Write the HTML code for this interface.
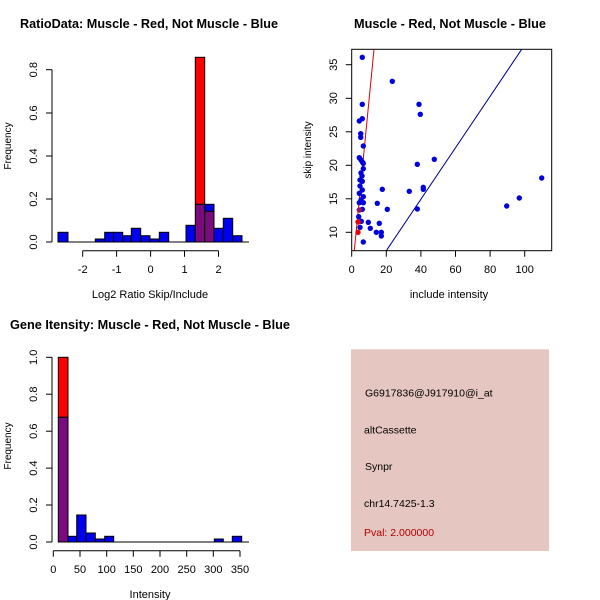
<!DOCTYPE html>
<html><head><meta charset="utf-8"><style>
html,body{margin:0;padding:0;background:#fff;}
svg{display:block;font-family:"Liberation Sans",sans-serif;}
</style></head><body>
<svg width="600" height="600" viewBox="0 0 600 600" xmlns="http://www.w3.org/2000/svg">
<rect width="600" height="600" fill="#fff"/>
<g font-weight="bold" font-size="13" fill="#000">
<text x="20" y="28" textLength="258" lengthAdjust="spacingAndGlyphs">RatioData: Muscle - Red, Not Muscle - Blue</text>
<text x="354" y="28" textLength="192" lengthAdjust="spacingAndGlyphs">Muscle - Red, Not Muscle - Blue</text>
<text x="10" y="329" textLength="280" lengthAdjust="spacingAndGlyphs">Gene Itensity: Muscle - Red, Not Muscle - Blue</text>
</g>

<g stroke="#000" stroke-width="1">
<line x1="58" y1="242" x2="249" y2="242"/>
<rect x="58" y="232.3" width="10" height="9.7" fill="#0000ee"/>
<rect x="95.3" y="239" width="9.4" height="3" fill="#0000ee"/>
<rect x="104.7" y="232.3" width="9" height="9.7" fill="#0000ee"/>
<rect x="113.7" y="232.3" width="9" height="9.7" fill="#0000ee"/>
<rect x="122.7" y="235.7" width="8.6" height="6.3" fill="#0000ee"/>
<rect x="131.3" y="228.3" width="9.4" height="13.7" fill="#0000ee"/>
<rect x="140.7" y="235.7" width="9.3" height="6.3" fill="#0000ee"/>
<rect x="150" y="239" width="9.3" height="3" fill="#0000ee"/>
<rect x="159.3" y="232.3" width="9.4" height="9.7" fill="#0000ee"/>
<rect x="186" y="225.3" width="9.3" height="16.7" fill="#0000ee"/>
<rect x="195.3" y="57.3" width="9.4" height="147" fill="#ff0000"/>
<rect x="195.3" y="204.3" width="9.4" height="37.7" fill="#7a0a7e"/>
<rect x="204.7" y="204.3" width="9.3" height="37.7" fill="#0000ee"/>
<rect x="204.7" y="211.3" width="9.3" height="30.7" fill="#7a0a7e"/>
<rect x="214" y="228.3" width="9.3" height="13.7" fill="#0000ee"/>
<rect x="223.3" y="218.3" width="9.4" height="23.7" fill="#0000ee"/>
<rect x="232.7" y="235.7" width="9.3" height="6.3" fill="#0000ee"/>
<line x1="52" y1="242" x2="52" y2="69.7"/>
<line x1="46" y1="242" x2="52" y2="242"/><line x1="46" y1="199" x2="52" y2="199"/><line x1="46" y1="156" x2="52" y2="156"/><line x1="46" y1="113" x2="52" y2="113"/><line x1="46" y1="69.7" x2="52" y2="69.7"/>
<line x1="82.7" y1="250.7" x2="218.5" y2="250.7"/>
<line x1="82.7" y1="250.7" x2="82.7" y2="256.7"/><line x1="116.6" y1="250.7" x2="116.6" y2="256.7"/><line x1="150.6" y1="250.7" x2="150.6" y2="256.7"/><line x1="184.5" y1="250.7" x2="184.5" y2="256.7"/><line x1="218.5" y1="250.7" x2="218.5" y2="256.7"/>
</g>
<g font-size="11" fill="#000" text-anchor="middle">
<text x="82.7" y="273">-2</text><text x="116.6" y="273">-1</text><text x="150.6" y="273">0</text><text x="184.5" y="273">1</text><text x="218.5" y="273">2</text>
<text x="150" y="298">Log2 Ratio Skip/Include</text>
<text transform="translate(37,242) rotate(-90)">0.0</text>
<text transform="translate(37,199) rotate(-90)">0.2</text>
<text transform="translate(37,156) rotate(-90)">0.4</text>
<text transform="translate(37,113) rotate(-90)">0.6</text>
<text transform="translate(37,69.7) rotate(-90)">0.8</text>
<text transform="translate(11,146) rotate(-90)" font-size="10">Frequency</text>
</g>

<g stroke="#000" stroke-width="1" fill="none">
<rect x="351.7" y="49.3" width="200" height="201.4"/>
<line x1="351.7" y1="250.7" x2="351.7" y2="256.7"/><line x1="386.3" y1="250.7" x2="386.3" y2="256.7"/><line x1="420.9" y1="250.7" x2="420.9" y2="256.7"/><line x1="455.5" y1="250.7" x2="455.5" y2="256.7"/><line x1="490.1" y1="250.7" x2="490.1" y2="256.7"/><line x1="524.7" y1="250.7" x2="524.7" y2="256.7"/>
<line x1="345.7" y1="232.3" x2="351.7" y2="232.3"/><line x1="345.7" y1="198.8" x2="351.7" y2="198.8"/><line x1="345.7" y1="165.3" x2="351.7" y2="165.3"/><line x1="345.7" y1="131.8" x2="351.7" y2="131.8"/><line x1="345.7" y1="98.3" x2="351.7" y2="98.3"/><line x1="345.7" y1="64.7" x2="351.7" y2="64.7"/>
</g>
<line x1="354.3" y1="250.7" x2="374" y2="49.3" stroke="#dd0000" stroke-width="1"/>
<line x1="386.3" y1="250.7" x2="521.7" y2="49.3" stroke="#00008b" stroke-width="1"/>
<g fill="#0000dd">
<circle cx="362.3" cy="57.3" r="2.7"/><circle cx="392.3" cy="81.3" r="2.7"/><circle cx="362.3" cy="104.3" r="2.7"/><circle cx="419" cy="104.3" r="2.7"/><circle cx="420.3" cy="114.3" r="2.7"/><circle cx="359.3" cy="121" r="2.7"/><circle cx="362.3" cy="118.7" r="2.7"/><circle cx="360.7" cy="133.7" r="2.7"/><circle cx="360.7" cy="137.3" r="2.7"/><circle cx="363.3" cy="146" r="2.7"/><circle cx="359.3" cy="157.7" r="2.7"/><circle cx="361" cy="160" r="2.7"/><circle cx="362.3" cy="162" r="2.7"/><circle cx="363.3" cy="163.3" r="2.7"/><circle cx="417.3" cy="164.3" r="2.7"/><circle cx="434.3" cy="159.3" r="2.7"/><circle cx="363.3" cy="168.7" r="2.7"/><circle cx="362.3" cy="181.3" r="2.7"/><circle cx="382.3" cy="189.3" r="2.7"/><circle cx="409.3" cy="191.3" r="2.7"/><circle cx="423.3" cy="187.3" r="2.7"/><circle cx="423.3" cy="189.3" r="2.7"/><circle cx="362.3" cy="190" r="2.7"/><circle cx="359.3" cy="193.3" r="2.7"/><circle cx="363.3" cy="196.7" r="2.7"/><circle cx="361" cy="200" r="2.7"/><circle cx="359.3" cy="202.7" r="2.7"/><circle cx="363.3" cy="202.7" r="2.7"/><circle cx="377.3" cy="203.3" r="2.7"/><circle cx="417.3" cy="209" r="2.7"/><circle cx="387.3" cy="209.3" r="2.7"/><circle cx="362.3" cy="209.3" r="2.7"/><circle cx="358.7" cy="216.7" r="2.7"/><circle cx="361.3" cy="221.3" r="2.7"/><circle cx="368.3" cy="222.3" r="2.7"/><circle cx="379.3" cy="223.3" r="2.7"/><circle cx="360" cy="227.3" r="2.7"/><circle cx="370.3" cy="228.3" r="2.7"/><circle cx="376.3" cy="232.3" r="2.7"/><circle cx="381.3" cy="232.3" r="2.7"/><circle cx="381.3" cy="236" r="2.7"/><circle cx="363.3" cy="242" r="2.7"/><circle cx="506.7" cy="206" r="2.7"/><circle cx="519.3" cy="198" r="2.7"/><circle cx="541.7" cy="178" r="2.7"/><circle cx="360" cy="180" r="2.7"/><circle cx="361" cy="173" r="2.7"/><circle cx="360" cy="186" r="2.7"/><circle cx="362" cy="176" r="2.7"/>
</g>
<g fill="#ee0000">
<circle cx="358" cy="232.3" r="2.7"/><circle cx="358" cy="222" r="2.7"/><circle cx="359.3" cy="210" r="2.7" fill="#a01060"/>
</g>
<g font-size="11" fill="#000" text-anchor="middle">
<text x="351.7" y="273">0</text><text x="386.3" y="273">20</text><text x="420.9" y="273">40</text><text x="455.5" y="273">60</text><text x="490.1" y="273">80</text><text x="524.7" y="273">100</text>
<text x="449" y="298">include intensity</text>
<text transform="translate(337,232.3) rotate(-90)">10</text>
<text transform="translate(337,198.8) rotate(-90)">15</text>
<text transform="translate(337,165.3) rotate(-90)">20</text>
<text transform="translate(337,131.8) rotate(-90)">25</text>
<text transform="translate(337,98.3) rotate(-90)">30</text>
<text transform="translate(337,64.7) rotate(-90)">35</text>
<text transform="translate(311,150) rotate(-90)" font-size="10">skip intensity</text>
</g>

<g stroke="#000" stroke-width="1">
<line x1="58" y1="542" x2="249" y2="542"/>
<rect x="58.3" y="357.3" width="9.7" height="60" fill="#ff0000"/>
<rect x="58.3" y="417.3" width="9.7" height="124.7" fill="#7a0a7e"/>
<rect x="68" y="536.3" width="8.7" height="5.7" fill="#0000ee"/>
<rect x="76.7" y="515" width="9.3" height="27" fill="#0000ee"/>
<rect x="86" y="533" width="9.3" height="9" fill="#0000ee"/>
<rect x="95.3" y="539" width="9.4" height="3" fill="#0000ee"/>
<rect x="104.7" y="536.3" width="9" height="5.7" fill="#0000ee"/>
<rect x="214.3" y="539" width="9" height="3" fill="#0000ee"/>
<rect x="232.3" y="536.3" width="9.4" height="5.7" fill="#0000ee"/>
<line x1="52" y1="542" x2="52" y2="357.3"/>
<line x1="46" y1="542" x2="52" y2="542"/><line x1="46" y1="505" x2="52" y2="505"/><line x1="46" y1="468.1" x2="52" y2="468.1"/><line x1="46" y1="431.2" x2="52" y2="431.2"/><line x1="46" y1="394.2" x2="52" y2="394.2"/><line x1="46" y1="357.3" x2="52" y2="357.3"/>
<line x1="53.3" y1="550.7" x2="240" y2="550.7"/>
<line x1="53.3" y1="550.7" x2="53.3" y2="556.7"/><line x1="80" y1="550.7" x2="80" y2="556.7"/><line x1="106.7" y1="550.7" x2="106.7" y2="556.7"/><line x1="133.3" y1="550.7" x2="133.3" y2="556.7"/><line x1="160" y1="550.7" x2="160" y2="556.7"/><line x1="186.7" y1="550.7" x2="186.7" y2="556.7"/><line x1="213.3" y1="550.7" x2="213.3" y2="556.7"/><line x1="240" y1="550.7" x2="240" y2="556.7"/>
</g>
<g font-size="11" fill="#000" text-anchor="middle">
<text x="53.3" y="573">0</text><text x="80" y="573">50</text><text x="106.7" y="573">100</text><text x="133.3" y="573">150</text><text x="160" y="573">200</text><text x="186.7" y="573">250</text><text x="213.3" y="573">300</text><text x="240" y="573">350</text>
<text x="150" y="598">Intensity</text>
<text transform="translate(37,542) rotate(-90)">0.0</text>
<text transform="translate(37,505) rotate(-90)">0.2</text>
<text transform="translate(37,468.1) rotate(-90)">0.4</text>
<text transform="translate(37,431.2) rotate(-90)">0.6</text>
<text transform="translate(37,394.2) rotate(-90)">0.8</text>
<text transform="translate(37,357.3) rotate(-90)">1.0</text>
<text transform="translate(11,446) rotate(-90)" font-size="10">Frequency</text>
</g>

<rect x="351" y="349.3" width="198" height="201.7" fill="#e5c6c0"/>
<g font-size="10.5" fill="#000">
<text x="365" y="396.5">G6917836@J917910@i_at</text>
<text x="364" y="433.5">altCassette</text>
<text x="365" y="470">Synpr</text>
<text x="364" y="507">chr14.7425-1.3</text>
<text x="364" y="536" fill="#b00000">Pval: 2.000000</text>
</g>
</svg>
</body></html>
